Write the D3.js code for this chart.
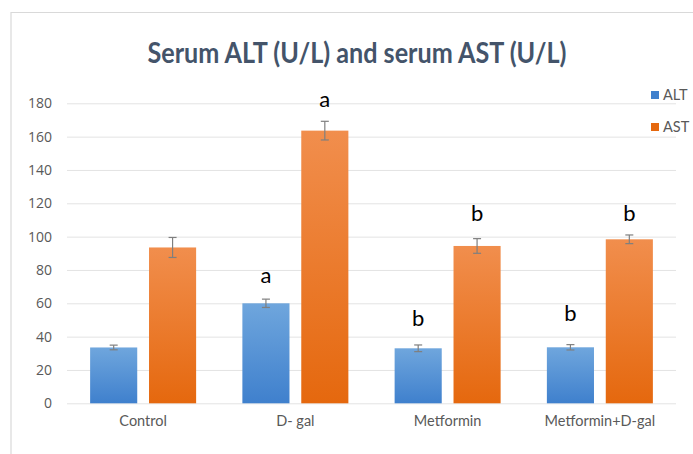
<!DOCTYPE html>
<html>
<head>
<meta charset="utf-8">
<script src="https://cdn.jsdelivr.net/npm/d3@7"></script>
<style>
  html, body { margin: 0; padding: 0; background: #fff; }
  svg { display: block; }
</style>
</head>
<body>
<svg id="chart" width="693" height="454"></svg>
<script>
// ---- data ----
const categories = ["Control", "D- gal", "Metformin", "Metformin+D-gal"];
const seriesNames = ["ALT", "AST"];
const altValues = [33.5, 60, 33, 33.6];
const altErrors = [1.4, 2.5, 2.0, 1.6];
const astValues = [93.5, 163.6, 94.4, 98.4];
const astErrors = [6.0, 5.6, 4.4, 2.6];
const altLetters = ["", "a", "b", "b"];
const astLetters = ["", "a", "b", "b"];
const altLetterAt = [0, 72, 46.6, 49.6];
const astLetterAt = [0, 178, 109.6, 109.6];
const yTicks = [0, 20, 40, 60, 80, 100, 120, 140, 160, 180];
const titleText = "Serum ALT (U/L) and serum AST (U/L)";

const svg = d3.select("#chart");
const W = 693, H = 454;
const plot = { left: 67, right: 676, top: 103.3, bottom: 403.3 };

const colors = { ALT: ["#6fa6dd", "#3f80cd"], AST: ["#f18e4d", "#e5680e"] };

// gradients
const defs = svg.append("defs");
seriesNames.forEach(s => {
  const g = defs.append("linearGradient").attr("id", "grad-" + s)
    .attr("x1", 0).attr("y1", 0).attr("x2", 0).attr("y2", 1);
  g.append("stop").attr("offset", "0%").attr("stop-color", colors[s][0]);
  g.append("stop").attr("offset", "100%").attr("stop-color", colors[s][1]);
});

// outer border (left and top only visible)
svg.append("path")
  .attr("d", `M11,${H} L11,12.5 L${W},12.5`)
  .attr("fill", "none").attr("stroke", "#d9d9d9").attr("stroke-width", 1.2);

// title
svg.append("text")
  .attr("x", 357).attr("y", 63)
  .attr("text-anchor", "middle")
  .attr("font-family", "Lato, 'Open Sans', sans-serif")
  .attr("font-weight", "bold")
  .attr("font-size", 28)
  .attr("fill", "#44546a")
  .attr("textLength", 419)
  .attr("lengthAdjust", "spacingAndGlyphs")
  .text(titleText);

// scales
const x0 = d3.scaleBand().domain(categories).range([plot.left, plot.right]).padding(0);
const inner = 106;
const x1 = d3.scaleBand().domain(seriesNames).range([0, inner]).paddingInner(0.2);
const groupOffset = (x0.bandwidth() - inner) / 2;
const y = d3.scaleLinear().domain([0, 180]).range([plot.bottom, plot.top]);

// gridlines
svg.append("g").selectAll("line").data(yTicks).join("line")
  .attr("x1", plot.left).attr("x2", plot.right)
  .attr("y1", d => y(d) + 0.5).attr("y2", d => y(d) + 0.5)
  .attr("stroke", "#e3e3e3").attr("stroke-width", 1);

// y axis labels
const yAxis = d3.axisLeft(y).tickValues(yTicks).tickSize(0).tickPadding(0);
const yg = svg.append("g").attr("transform", `translate(52,0)`).call(yAxis);
yg.select(".domain").remove();
yg.selectAll("text")
  .attr("font-family", "'Open Sans', 'Noto Sans', sans-serif")
  .attr("font-size", 14).attr("fill", "#595959");

// x axis labels
const xAxis = d3.axisBottom(x0).tickSize(0).tickPadding(0);
const xg = svg.append("g").attr("transform", `translate(0,${plot.bottom + 12})`).call(xAxis);
xg.select(".domain").remove();
xg.selectAll("text")
  .attr("dy", "0.71em")
  .attr("font-family", "Lato, 'Open Sans', sans-serif")
  .attr("font-size", 14.5).attr("fill", "#595959");

// data rows
const rows = categories.map((c, i) => ({
  cat: c,
  items: [
    { s: "ALT", v: altValues[i], e: altErrors[i], l: altLetters[i], la: altLetterAt[i] },
    { s: "AST", v: astValues[i], e: astErrors[i], l: astLetters[i], la: astLetterAt[i] }
  ]
}));

const groups = svg.append("g").selectAll("g").data(rows).join("g")
  .attr("transform", d => `translate(${x0(d.cat) + groupOffset},0)`);

groups.selectAll("rect").data(d => d.items).join("rect")
  .attr("x", d => x1(d.s)).attr("width", x1.bandwidth())
  .attr("y", d => y(d.v)).attr("height", d => y(0) - y(d.v))
  .attr("fill", d => `url(#grad-${d.s})`);

// error bars
const eb = groups.selectAll("g.err").data(d => d.items).join("g").attr("class", "err");
eb.append("line")
  .attr("x1", d => x1(d.s) + x1.bandwidth() / 2).attr("x2", d => x1(d.s) + x1.bandwidth() / 2)
  .attr("y1", d => y(d.v + d.e)).attr("y2", d => y(d.v - d.e))
  .attr("stroke", "#7f7f7f").attr("stroke-width", 1.2);
["+", "-"].forEach(sign => {
  eb.append("line")
    .attr("x1", d => x1(d.s) + x1.bandwidth() / 2 - 4).attr("x2", d => x1(d.s) + x1.bandwidth() / 2 + 4)
    .attr("y1", d => y(sign === "+" ? d.v + d.e : d.v - d.e))
    .attr("y2", d => y(sign === "+" ? d.v + d.e : d.v - d.e))
    .attr("stroke", "#7f7f7f").attr("stroke-width", 1.2);
});

// significance letters
groups.selectAll("text.sig").data(d => d.items.filter(it => it.l)).join("text")
  .attr("class", "sig")
  .attr("x", d => x1(d.s) + x1.bandwidth() / 2)
  .attr("y", d => y(d.la))
  .attr("text-anchor", "middle")
  .attr("font-family", "Lato, 'Open Sans', sans-serif")
  .attr("font-size", 22).attr("fill", "#000")
  .text(d => d.l);

// legend
const legend = svg.append("g").selectAll("g").data(seriesNames).join("g")
  .attr("transform", (d, i) => `translate(651,${95 + i * 32})`);
legend.append("rect").attr("x", 0).attr("y", -4).attr("width", 8).attr("height", 8)
  .attr("fill", d => colors[d][1]);
legend.append("text").attr("x", 12).attr("y", 0).attr("dy", "0.35em")
  .attr("font-family", "Lato, 'Open Sans', sans-serif")
  .attr("font-size", 14.5).attr("fill", "#595959")
  .text(d => d);
</script>
</body>
</html>
